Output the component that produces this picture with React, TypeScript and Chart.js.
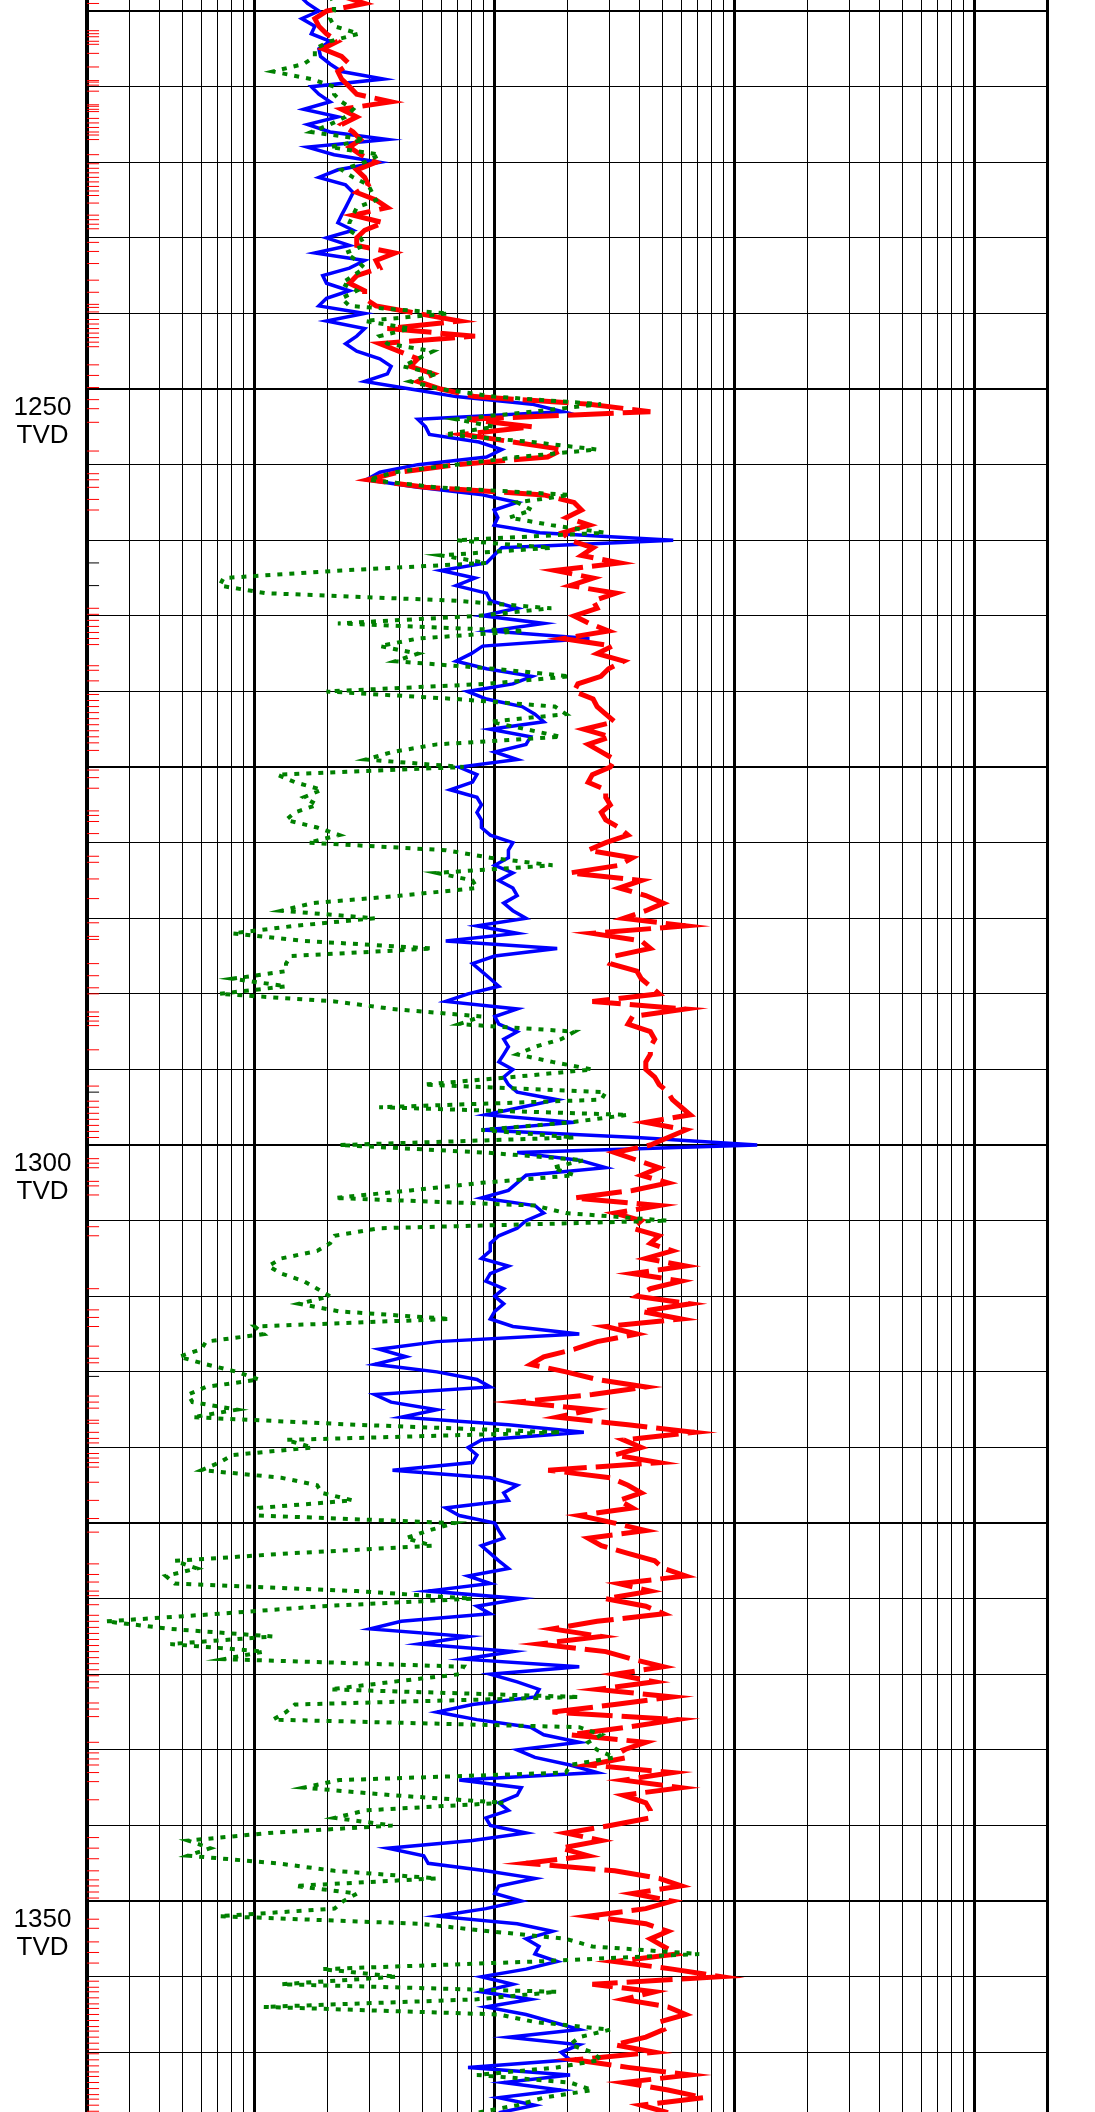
import React, { useEffect, useRef } from "react";
import { Chart, registerables } from "chart.js";

Chart.register(...registerables);

// Depth samples (TVD), one row = 5 depth units
const DEPTHS = [
  1224, 1224.5, 1225, 1225.5, 1226, 1226.5, 1227, 1227.5, 1228, 1228.5,
  1229, 1229.5, 1230, 1230.5, 1231, 1231.5, 1232, 1232.5, 1233, 1233.5,
  1234, 1234.5, 1235, 1235.5, 1236, 1236.5, 1237, 1237.5, 1238, 1238.5,
  1239, 1239.5, 1240, 1240.5, 1241, 1241.5, 1242, 1242.5, 1243, 1243.5,
  1244, 1244.5, 1245, 1245.5, 1246, 1246.5, 1247, 1247.5, 1248, 1248.5,
  1249, 1249.5, 1250, 1250.5, 1251, 1251.5, 1252, 1252.5, 1253, 1253.5,
  1254, 1254.5, 1255, 1255.5, 1256, 1256.5, 1257, 1257.5, 1258, 1258.5,
  1259, 1259.5, 1260, 1260.5, 1261, 1261.5, 1262, 1262.5, 1263, 1263.5,
  1264, 1264.5, 1265, 1265.5, 1266, 1266.5, 1267, 1267.5, 1268, 1268.5,
  1269, 1269.5, 1270, 1270.5, 1271, 1271.5, 1272, 1272.5, 1273, 1273.5,
  1274, 1274.5, 1275, 1275.5, 1276, 1276.5, 1277, 1277.5, 1278, 1278.5,
  1279, 1279.5, 1280, 1280.5, 1281, 1281.5, 1282, 1282.5, 1283, 1283.5,
  1284, 1284.5, 1285, 1285.5, 1286, 1286.5, 1287, 1287.5, 1288, 1288.5,
  1289, 1289.5, 1290, 1290.5, 1291, 1291.5, 1292, 1292.5, 1293, 1293.5,
  1294, 1294.5, 1295, 1295.5, 1296, 1296.5, 1297, 1297.5, 1298, 1298.5,
  1299, 1299.5, 1300, 1300.5, 1301, 1301.5, 1302, 1302.5, 1303, 1303.5,
  1304, 1304.5, 1305, 1305.5, 1306, 1306.5, 1307, 1307.5, 1308, 1308.5,
  1309, 1309.5, 1310, 1310.5, 1311, 1311.5, 1312, 1312.5, 1313, 1313.5,
  1314, 1314.5, 1315, 1315.5, 1316, 1316.5, 1317, 1317.5, 1318, 1318.5,
  1319, 1319.5, 1320, 1320.5, 1321, 1321.5, 1322, 1322.5, 1323, 1323.5,
  1324, 1324.5, 1325, 1325.5, 1326, 1326.5, 1327, 1327.5, 1328, 1328.5,
  1329, 1329.5, 1330, 1330.5, 1331, 1331.5, 1332, 1332.5, 1333, 1333.5,
  1334, 1334.5, 1335, 1335.5, 1336, 1336.5, 1337, 1337.5, 1338, 1338.5,
  1339, 1339.5, 1340, 1340.5, 1341, 1341.5, 1342, 1342.5, 1343, 1343.5,
  1344, 1344.5, 1345, 1345.5, 1346, 1346.5, 1347, 1347.5, 1348, 1348.5,
  1349, 1349.5, 1350, 1350.5, 1351, 1351.5, 1352, 1352.5, 1353, 1353.5,
  1354, 1354.5, 1355, 1355.5, 1356, 1356.5, 1357, 1357.5, 1358, 1358.5,
  1359, 1359.5, 1360, 1360.5, 1361, 1361.5, 1362, 1362.5, 1363, 1363.5,
  1364,
];

// Blue solid curve
const BLUE = [
  1.54, 1.66, 1.85, 1.57, 1.78, 1.72, 2.06, 1.85, 1.88, 2.06,
  2.30, 3.44, 1.72, 1.85, 2.06, 1.60, 2.22, 1.66, 2.06, 3.57,
  1.66, 2.14, 3.32, 2.22, 1.85, 2.39, 2.57, 2.48, 2.39, 2.30,
  2.22, 2.57, 1.99, 2.48, 1.78, 2.87, 2.48, 1.92, 1.99, 2.48,
  1.99, 1.85, 2.87, 1.99, 2.87, 2.66, 2.39, 2.66, 3.32, 3.70,
  3.57, 2.87, 4.45, 6.90, 14.3, 19.2, 4.78, 5.15, 5.34, 8.59,
  10.7, 9.24, 4.78, 3.32, 2.92, 4.78, 8.90, 12.4, 9.94, 10.3,
  9.94, 15.4, 55.4, 10.7, 9.94, 9.24, 5.96, 8.28, 6.90, 9.24,
  9.58, 12.4, 8.90, 16.0, 9.58, 24.8, 8.90, 7.98, 6.90, 9.24,
  14.3, 11.9, 7.70, 9.24, 13.0, 14.7, 16.0, 9.58, 14.1, 13.5,
  10.0, 12.4, 7.11, 8.43, 8.08, 6.52, 8.43, 8.80, 8.43, 8.80,
  8.80, 9.58, 11.9, 11.4, 11.4, 10.0, 11.9, 10.4, 11.9, 12.4,
  10.9, 11.9, 13.5, 8.43, 12.4, 6.25, 18.2, 10.0, 8.08, 8.80,
  9.58, 10.4, 7.74, 6.25, 12.4, 10.0, 10.4, 12.4, 10.9, 11.4,
  10.9, 10.4, 11.9, 10.9, 11.4, 12.4, 18.2, 12.9, 9.18, 21.5,
  8.80, 39.1, 124, 12.4, 22.5, 29.0, 13.5, 12.4, 11.4, 8.80,
  14.7, 16.0, 13.5, 12.4, 10.4, 9.58, 9.58, 8.80, 11.4, 9.58,
  9.18, 10.9, 10.0, 10.9, 10.0, 9.58, 11.9, 22.5, 5.74, 3.30,
  4.26, 3.16, 5.74, 8.43, 9.58, 3.16, 3.70, 5.74, 4.08, 11.4,
  23.5, 8.80, 7.74, 8.43, 8.08, 3.75, 9.58, 12.4, 10.9, 11.4,
  6.25, 7.11, 10.0, 10.4, 10.9, 8.80, 9.58, 10.4, 11.4, 7.74,
  9.58, 5.28, 12.9, 8.43, 9.58, 4.08, 3.03, 7.74, 4.84, 11.9,
  7.42, 22.5, 9.58, 12.4, 15.3, 14.7, 8.08, 5.74, 8.43, 14.1,
  16.0, 22.5, 12.4, 14.7, 20.6, 26.7, 7.11, 12.9, 12.4, 10.4,
  11.4, 9.18, 9.58, 13.5, 8.08, 3.59, 5.06, 5.28, 9.18, 14.7,
  10.4, 10.0, 12.9, 9.18, 5.74, 12.4, 17.4, 13.5, 15.3, 14.7,
  18.2, 13.5, 8.80, 11.9, 8.80, 14.1, 9.18, 13.5, 17.4, 22.5,
  11.4, 22.5, 18.9, 20.6, 7.74, 20.6, 10.9, 18.9, 10.4, 14.7,
  10.4,
];

// Red dashed curve
const RED = [
  2.30, 2.87, 1.99, 1.78, 1.85, 1.99, 2.22, 1.92, 2.30, 2.48,
  2.22, 2.30, 2.48, 2.66, 3.70, 2.30, 2.66, 2.30, 2.57, 2.76,
  2.48, 2.76, 3.20, 2.66, 2.87, 2.97, 2.66, 3.20, 3.57, 2.57,
  3.44, 2.87, 2.66, 2.66, 3.84, 3.20, 3.32, 2.66, 2.48, 2.87,
  2.87, 3.20, 4.78, 7.15, 3.57, 8.28, 3.32, 3.98, 4.78, 4.45,
  5.54, 4.78, 5.96, 8.28, 24.8, 44.5, 7.70, 14.3, 7.42, 11.9,
  19.2, 16.6, 6.90, 3.98, 2.97, 5.15, 16.0, 21.4, 23.0, 19.9,
  24.8, 19.2, 20.6, 25.7, 23.0, 33.2, 17.8, 25.7, 20.6, 32.0,
  25.7, 26.7, 21.4, 24.8, 29.8, 19.2, 30.9, 26.7, 34.5, 29.8,
  27.7, 22.2, 21.4, 25.7, 26.7, 29.0, 31.6, 23.5, 30.3, 24.5,
  27.8, 31.6, 30.3, 25.5, 24.5, 29.0, 29.0, 30.3, 27.8, 29.0,
  33.0, 35.9, 29.0, 24.5, 37.5, 33.0, 20.6, 40.8, 33.0, 42.6,
  50.5, 42.6, 34.4, 62.5, 25.5, 40.8, 44.5, 31.6, 30.3, 39.1,
  40.8, 44.5, 48.4, 25.5, 62.5, 37.5, 35.9, 44.5, 46.4, 44.5,
  44.5, 42.6, 42.6, 46.4, 48.4, 52.7, 55.0, 59.9, 65.3, 42.6,
  62.5, 52.7, 44.5, 31.6, 39.1, 48.4, 40.8, 52.7, 37.5, 21.5,
  48.4, 31.6, 40.8, 37.5, 48.4, 44.5, 55.0, 42.6, 62.5, 37.5,
  59.9, 44.5, 39.1, 65.3, 40.8, 59.9, 29.0, 39.1, 26.7, 21.5,
  16.0, 14.1, 19.8, 26.7, 42.6, 25.5, 12.4, 25.5, 18.2, 35.9,
  68.1, 34.4, 40.8, 31.6, 48.4, 16.7, 30.3, 35.9, 40.8, 33.0,
  37.5, 22.5, 31.6, 42.6, 24.5, 27.8, 35.9, 46.4, 50.5, 62.5,
  33.0, 44.5, 29.0, 42.6, 50.5, 26.7, 17.4, 27.8, 15.3, 29.0,
  37.5, 50.5, 31.6, 46.4, 26.7, 55.0, 31.6, 17.4, 57.4, 35.9,
  20.6, 42.6, 34.4, 35.9, 24.5, 55.0, 34.4, 59.9, 34.4, 42.6,
  44.5, 44.5, 30.3, 19.8, 27.8, 18.9, 24.5, 13.5, 31.6, 48.4,
  59.9, 37.5, 55.0, 42.6, 24.5, 42.6, 52.7, 44.5, 50.5, 57.4,
  31.6, 55.0, 87.8, 25.5, 46.4, 34.4, 52.7, 62.5, 48.4, 50.5,
  42.6, 31.6, 46.4, 21.5, 35.9, 65.3, 34.4, 52.7, 74.2, 40.8,
  52.7,
];

// Green dotted curve
const GREEN = [
  2.06, 2.14, 2.14, 2.06, 2.14, 2.71, 2.06, 1.78, 1.78, 1.60,
  1.19, 1.72, 2.14, 2.14, 2.30, 2.57, 2.39, 2.06, 1.72, 2.87,
  2.06, 3.32, 2.87, 2.30, 2.57, 2.97, 3.08, 3.20, 2.66, 2.57,
  2.48, 2.48, 2.76, 2.87, 2.39, 2.66, 2.87, 2.57, 2.30, 2.66,
  2.30, 2.48, 6.41, 2.87, 4.45, 3.32, 3.57, 5.54, 4.78, 4.13,
  5.74, 4.45, 5.96, 9.94, 27.7, 14.3, 6.90, 9.94, 6.18, 14.3,
  26.7, 12.4, 6.90, 3.84, 2.97, 5.74, 20.6, 12.4, 14.3, 11.5,
  17.2, 28.7, 6.90, 17.2, 5.96, 9.24, 2.30, 0.741, 0.714, 1.11,
  6.90, 17.2, 8.59, 2.22, 13.3, 4.78, 3.32, 4.78, 3.84, 9.94,
  20.6, 9.24, 1.99, 6.90, 17.8, 19.8, 9.58, 13.5, 18.9, 5.74,
  3.75, 2.90, 7.42, 1.24, 1.47, 1.90, 1.60, 1.82, 1.47, 1.35,
  1.82, 2.25, 1.67, 6.25, 9.58, 17.4, 5.74, 8.08, 8.43, 4.08,
  1.74, 1.29, 3.16, 1.47, 0.808, 1.60, 5.51, 1.41, 1.35, 1.35,
  0.808, 1.35, 0.711, 2.15, 3.75, 8.80, 7.11, 21.5, 18.9, 14.7,
  12.4, 17.4, 25.5, 11.9, 5.06, 29.0, 27.8, 3.30, 35.9, 20.6,
  8.80, 21.5, 2.25, 9.18, 23.5, 17.4, 21.5, 8.80, 4.45, 2.15,
  14.7, 19.8, 52.7, 3.30, 2.15, 2.06, 1.82, 1.29, 1.14, 1.29,
  1.60, 1.82, 2.06, 1.53, 2.25, 6.52, 1.00, 1.09, 0.626, 0.60,
  0.484, 0.626, 0.843, 1.04, 0.626, 0.527, 0.55, 0.843, 0.55, 2.67,
  18.9, 1.35, 1.74, 0.808, 0.711, 0.60, 1.29, 1.82, 1.90, 2.56,
  1.04, 1.04, 6.81, 5.28, 4.26, 5.51, 1.41, 0.464, 0.574, 0.426,
  0.464, 2.67, 8.08, 1.90, 0.711, 0.24, 0.445, 1.19, 0.445, 1.09,
  0.742, 7.42, 7.11, 3.75, 2.06, 22.5, 1.47, 1.35, 1.19, 22.5,
  27.8, 24.5, 26.7, 31.6, 20.6, 19.8, 2.25, 1.60, 3.75, 10.9,
  2.90, 2.15, 3.75, 1.14, 0.527, 0.653, 0.527, 1.24, 2.15, 5.74,
  1.47, 2.67, 2.34, 2.15, 0.711, 4.84, 9.58, 19.8, 25.5, 71.1,
  14.7, 1.90, 3.91, 1.29, 18.2, 8.43, 1.09, 10.4, 14.7, 30.3,
  22.5, 20.6, 25.5, 27.8, 18.2, 8.43, 20.6, 25.5, 16.0, 12.4,
  8.43,
];

// Sample marks along the depth track (red) and other marks (black)
const RED_MARKS = [
  1224.5, 1226.3, 1226.5, 1226.7, 1227.0, 1227.2, 1227.8, 1228.7, 1229.6, 1229.7,
  1229.9, 1230.3, 1231.2, 1231.3, 1231.5, 1231.65, 1232.1, 1232.4, 1232.7, 1233.0,
  1233.2, 1233.5, 1234.5, 1235.1, 1235.4, 1235.7, 1236.0, 1236.3, 1236.6, 1236.9,
  1237.2, 1237.7, 1238.5, 1238.8, 1239.1, 1239.4, 1240.3, 1240.9, 1241.7, 1242.8,
  1243.6, 1244.4, 1244.6, 1244.9, 1245.4, 1245.7, 1246.0, 1246.3, 1246.6, 1246.9,
  1247.2, 1248.4, 1249.1, 1249.9, 1250.7, 1251.3, 1252.2, 1254.1, 1255.6, 1256.0,
  1256.5, 1257.3, 1258.0, 1264.5, 1264.9, 1265.3, 1265.7, 1266.1, 1266.5, 1266.9,
  1268.3, 1268.6, 1269.3, 1270.2, 1270.6, 1271.0, 1271.4, 1271.8, 1272.2, 1272.6,
  1273.0, 1273.4, 1273.9, 1275.2, 1275.7, 1276.4, 1277.9, 1278.2, 1278.6, 1279.4,
  1280.9, 1281.3, 1282.4, 1283.7, 1285.3, 1286.2, 1286.4, 1288.0, 1288.8, 1289.6,
  1290.0, 1291.2, 1291.5, 1291.8, 1292.1, 1293.7, 1296.1, 1297.1, 1297.5, 1297.9,
  1298.3, 1298.7, 1299.1, 1299.5, 1300.9, 1301.2, 1301.5, 1302.4, 1302.7, 1303.3,
  1305.4, 1306.0, 1309.5, 1310.9, 1311.4, 1312.0, 1313.3, 1314.1, 1314.4, 1316.6,
  1317.0, 1317.4, 1318.2, 1318.4, 1319.0, 1319.4, 1319.7, 1320.4, 1320.7, 1321.0,
  1321.3, 1322.3, 1323.5, 1324.7, 1325.6, 1327.7, 1328.4, 1328.9, 1329.5, 1329.8,
  1330.4, 1331.1, 1331.5, 1331.9, 1332.3, 1332.7, 1333.1, 1333.5, 1333.9, 1334.3,
  1334.7, 1335.1, 1335.5, 1335.9, 1336.9, 1337.3, 1337.8, 1339.5, 1340.2, 1340.6,
  1341.0, 1341.5, 1342.1, 1343.3, 1345.8, 1346.5, 1347.2, 1348.0, 1348.6, 1349.0,
  1349.4, 1349.8, 1351.2, 1351.8, 1352.7, 1353.4, 1354.1, 1355.3, 1355.7, 1356.0,
  1356.4, 1356.8, 1357.1, 1357.5, 1357.9, 1358.3, 1358.6, 1359.0, 1359.4, 1359.8,
  1360.1, 1360.5, 1360.9, 1361.3, 1361.6, 1362.0, 1362.4, 1362.8, 1363.1, 1363.5,
  1363.9,
];
const BLACK_MARKS = [1261.5, 1263.0, 1296.5, 1315.3];
const MARK_VALUE = 0.212;

// Axis ranges and grid ticks
const DEPTH_TOP = 1224.27;
const DEPTH_BOTTOM = 1363.95;
const X_MIN = 0.2;
const X_MAX = 2000;
const X_GRID = [
  0.2, 0.3, 0.4, 0.5, 0.6, 0.7, 0.8, 0.9,
  1, 2, 3, 4, 5, 6, 7, 8, 9,
  10, 20, 30, 40, 50, 60, 70, 80, 90,
  100, 200, 300, 400, 500, 600, 700, 800, 900,
  1000, 2000,
];
const X_MAJOR = [1, 10, 100, 1000, 2000];
const Y_GRID = [
  1225, 1230, 1235, 1240, 1245, 1250, 1255, 1260, 1265, 1270,
  1275, 1280, 1285, 1290, 1295, 1300, 1305, 1310, 1315, 1320,
  1325, 1330, 1335, 1340, 1345, 1350, 1355, 1360,
];
const Y_MAJOR_STEP = 25;
const LABEL_DEPTHS = [1250, 1300, 1350];
const LABEL_UNIT = "TVD";

const labelPlugin = {
  id: "tvdLabels",
  afterDraw(chart: any) {
    const { ctx, chartArea, scales } = chart;
    const ys = scales.y;
    ctx.save();
    ctx.fillStyle = "#000000";
    ctx.font = '26px "Liberation Sans", Arial, sans-serif';
    ctx.textAlign = "center";
    ctx.textBaseline = "alphabetic";
    const cx = chartArea.left / 2 - 1;
    LABEL_DEPTHS.forEach((d) => {
      const py = ys.getPixelForValue(d);
      ctx.fillText(String(d), cx, py + 26);
      ctx.fillText(LABEL_UNIT, cx, py + 54);
    });
    ctx.restore();
  },
};

export default function App() {
  const ref = useRef<HTMLCanvasElement>(null);

  useEffect(() => {
    document.body.style.margin = "0";
    const canvas = ref.current;
    if (!canvas) return;
    const curve = (vals: number[]) => DEPTHS.map((d, i) => ({ x: vals[i], y: d }));
    const marks = (ds: number[]) => ds.map((d) => ({ x: MARK_VALUE, y: d }));

    const chart = new Chart(canvas, {
      type: "line",
      data: {
        datasets: [
          {
            label: "green",
            data: curve(GREEN),
            borderColor: "#008000",
            borderWidth: 4,
            borderDash: [5, 7],
            borderCapStyle: "butt",
            borderJoinStyle: "miter",
            pointRadius: 0,
            tension: 0,
            fill: false,
          },
          {
            label: "red",
            data: curve(RED),
            borderColor: "#ff0000",
            borderWidth: 5,
            borderDash: [46, 9],
            borderCapStyle: "butt",
            borderJoinStyle: "miter",
            pointRadius: 0,
            tension: 0,
            fill: false,
          },
          {
            label: "blue",
            data: curve(BLUE),
            borderColor: "#0000ff",
            borderWidth: 3.5,
            borderCapStyle: "butt",
            borderJoinStyle: "miter",
            pointRadius: 0,
            tension: 0,
            fill: false,
          },
          {
            label: "redMarks",
            data: marks(RED_MARKS),
            showLine: false,
            pointStyle: "line",
            pointRadius: 6,
            pointBorderWidth: 1,
            pointBorderColor: "#ff0000",
            pointBackgroundColor: "#ff0000",
          },
          {
            label: "blackMarks",
            data: marks(BLACK_MARKS),
            showLine: false,
            pointStyle: "line",
            pointRadius: 6,
            pointBorderWidth: 1,
            pointBorderColor: "#000000",
            pointBackgroundColor: "#000000",
          },
        ],
      },
      options: {
        indexAxis: "y",
        animation: false,
        responsive: false,
        events: [],
        layout: { autoPadding: false, padding: { left: 87, right: 48, top: 0, bottom: 0 } },
        plugins: {
          legend: { display: false },
          tooltip: { enabled: false },
        },
        scales: {
          x: {
            type: "logarithmic",
            position: "top",
            min: X_MIN,
            max: X_MAX,
            afterBuildTicks: (s: any) => {
              s.ticks = X_GRID.map((v) => ({ value: v }));
            },
            ticks: { display: false, autoSkip: false },
            border: { display: false },
            grid: {
              drawTicks: false,
              color: "#000000",
              lineWidth: (c: any) => {
                const v = c.tick ? c.tick.value : 0;
                if (v === X_MIN) return 4;
                return X_MAJOR.includes(v) ? 3 : 1;
              },
            },
          },
          y: {
            type: "linear",
            reverse: true,
            min: DEPTH_TOP,
            max: DEPTH_BOTTOM,
            afterBuildTicks: (s: any) => {
              s.ticks = Y_GRID.map((v) => ({ value: v }));
            },
            ticks: { display: false, autoSkip: false },
            border: { display: false },
            grid: {
              drawTicks: false,
              color: "#000000",
              lineWidth: (c: any) => {
                const v = c.tick ? c.tick.value : 0;
                return v % Y_MAJOR_STEP === 0 ? 2 : 1;
              },
            },
          },
        },
      },
      plugins: [labelPlugin],
    } as any);

    return () => chart.destroy();
  }, []);

  return (
    <div style={{ width: 1095, height: 2112, position: "relative", background: "#ffffff" }}>
      <canvas ref={ref} width={1095} height={2112} style={{ display: "block" }} />
    </div>
  );
}
